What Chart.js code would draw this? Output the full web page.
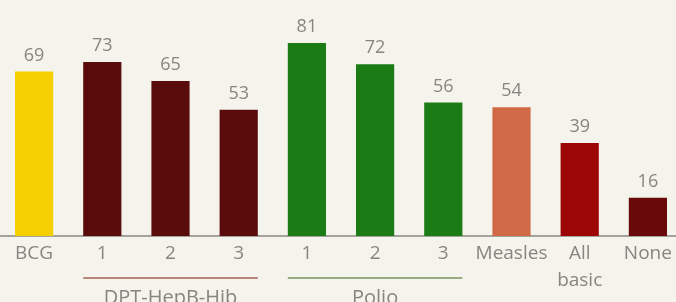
<!DOCTYPE html>
<html>
<head>
<meta charset="utf-8">
<script src="https://cdn.jsdelivr.net/npm/chart.js@4"></script>
<style>
  html, body { margin: 0; padding: 0; background: #f5f4ec; overflow: hidden; }
  #wrap { position: relative; width: 682px; height: 302px; }
</style>
</head>
<body>
<div id="wrap"><canvas id="chart"></canvas></div>
<script>
const categories = ['BCG', '1', '2', '3', '1', '2', '3', 'Measles', ['All', 'basic'], 'None'];
const coverage = [69, 73, 65, 53, 81, 72, 56, 54, 39, 16];
const barColors = ['#f6cf00', '#5a0c0c', '#5a0c0c', '#5a0c0c', '#1b7b15', '#1b7b15', '#1b7b15', '#d06a46', '#9c0606', '#6a0909'];
const groupNames = ['DPT-HepB-Hib', 'Polio'];
const groupStart = [1, 4];
const groupEnd = [3, 6];
const groupColors = ['#b8877c', '#98ab82'];

const textGrey = '#86857f';

// labels above the bars
const valueLabels = {
    id: 'valueLabels',
    afterDatasetsDraw(chart) {
        const ctx = chart.ctx;
        const meta = chart.getDatasetMeta(0);
        ctx.save();
        ctx.font = '18px "Open Sans"';
        ctx.fillStyle = textGrey;
        ctx.textAlign = 'center';
        ctx.textBaseline = 'alphabetic';
        meta.data.forEach((bar, i) => {
            ctx.fillText(coverage[i], bar.x, bar.y - 11);
        });
        ctx.restore();
    }
};

// brackets under the grouped doses
const groupLines = {
    id: 'groupLines',
    afterDraw(chart) {
        const ctx = chart.ctx;
        const meta = chart.getDatasetMeta(0);
        const bottom = chart.chartArea.bottom;
        ctx.save();
        for (let g = 0; g < groupNames.length; g++) {
            const a = meta.data[groupStart[g]];
            const b = meta.data[groupEnd[g]];
            const x1 = a.x - a.width / 2;
            const x2 = b.x + b.width / 2;
            ctx.strokeStyle = groupColors[g];
            ctx.lineWidth = 2;
            ctx.beginPath();
            ctx.moveTo(x1, bottom + 42);
            ctx.lineTo(x2, bottom + 42);
            ctx.stroke();
            ctx.font = '20px "Open Sans"';
            ctx.fillStyle = textGrey;
            ctx.textAlign = 'center';
            ctx.textBaseline = 'alphabetic';
            ctx.fillText(groupNames[g], (x1 + x2) / 2, bottom + 68);
        }
        ctx.restore();
    }
};

new Chart(document.getElementById('chart'), {
    type: 'bar',
    data: {
        labels: categories,
        datasets: [{
            data: coverage,
            backgroundColor: barColors,
            categoryPercentage: 1,
            barPercentage: 0.56
        }]
    },
    options: {
        responsive: true,
        maintainAspectRatio: false,
        animation: false,
        layout: { padding: { left: 0, right: 0, top: 0, bottom: 0 } },
        plugins: {
            legend: { display: false },
            tooltip: { enabled: false }
        },
        scales: {
            x: {
                grid: { display: false },
                border: { display: true, color: '#a3a29c', width: 2 },
                ticks: {
                    color: textGrey,
                    font: { family: 'Open Sans', size: 19, lineHeight: 1.42 },
                    padding: -4,
                    maxRotation: 0,
                    autoSkip: false
                },
                afterFit(scale) { scale.height = 66; }
            },
            y: {
                display: false,
                min: 0,
                max: 99
            }
        }
    },
    plugins: [valueLabels, groupLines]
});
</script>
</body>
</html>
